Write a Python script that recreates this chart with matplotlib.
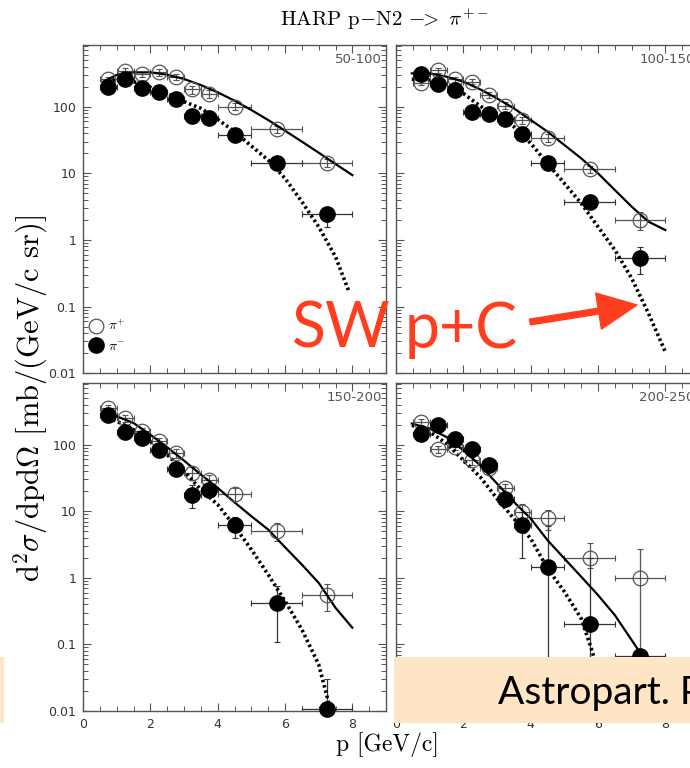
import matplotlib
matplotlib.use('Agg')
import matplotlib.pyplot as plt
from matplotlib.patches import Rectangle, FancyArrowPatch, ArrowStyle
from matplotlib.ticker import FixedLocator, FixedFormatter, MultipleLocator, LogLocator, NullFormatter

plt.rcParams['mathtext.fontset'] = 'cm'
plt.rcParams['axes.formatter.use_mathtext'] = True

# momentum bins (GeV/c) and half widths
p_bins = [0.75, 1.25, 1.75, 2.25, 2.75, 3.25, 3.75, 4.5, 5.75, 7.25]
p_half = [0.25, 0.25, 0.25, 0.25, 0.25, 0.25, 0.25, 0.5, 0.75, 0.75]

panel_names = ['50-100', '100-150', '150-200', '200-250']

# --- 50-100 mrad
pip_1 = [257, 347, 305, 327, 282, 182, 155, 100, 46, 14.5]
pip_1_lo = [25, 35, 30, 35, 30, 25, 20, 12, 6, 2]
pip_1_hi = [25, 35, 30, 35, 30, 25, 20, 12, 6, 2]
pim_1 = [200, 257, 193, 164, 129, 72, 67, 37.6, 14.5, 2.45]
pim_1_lo = [20, 25, 18, 16, 13, 8, 7, 4, 2, 0.87]
pim_1_hi = [20, 25, 18, 16, 13, 8, 7, 4, 2, 0.71]
fit_p_1 = [0.6, 1, 1.5, 2, 2.5, 3, 3.5, 4, 4.5, 5, 5.5, 6, 6.5, 7, 7.5, 8]
fit_pip_1 = [237, 299, 327, 327, 302, 260, 211, 164, 123, 89, 63, 43.6, 29.9, 20.4, 13.8, 9.4]
fit_pm_1 = [0.6, 1, 1.5, 2, 2.5, 3, 3.5, 4, 4.5, 5, 5.5, 6, 6.5, 7, 7.5, 7.9]
fit_pim_1 = [209, 266, 237, 195, 158, 119, 94.4, 64.6, 42.2, 25.7, 15.8, 8.4, 3.76, 1.58, 0.56, 0.168]

# --- 100-150 mrad
pip_2 = [229, 355, 257, 237, 150, 104, 62, 34, 11.5, 2.0]
pip_2_lo = [20, 30, 25, 20, 15, 12, 8, 5, 1.5, 0.6]
pip_2_hi = [20, 30, 25, 20, 15, 12, 8, 5, 1.5, 0.66]
pim_2 = [309, 219, 178, 84, 78, 64.6, 39, 14.5, 3.67, 0.53]
pim_2_lo = [25, 20, 15, 8, 8, 7, 5, 2, 0.6, 0.22]
pim_2_hi = [25, 20, 15, 8, 8, 7, 5, 2, 0.6, 0.25]
fit_p_2 = [0.47, 1, 1.5, 2, 2.5, 3, 3.5, 4, 4.5, 5, 5.5, 6, 6.5, 7, 7.5, 8]
fit_pip_2 = [316, 316, 282, 237, 182, 133, 94.4, 63.1, 42.2, 26.6, 16.8, 10, 5.62, 3.16, 1.88, 1.41]
fit_pm_2 = [0.47, 1, 1.5, 2, 2.5, 3, 3.5, 4, 4.5, 5, 5.5, 6, 6.5, 7, 7.5, 8]
fit_pim_2 = [257, 251, 211, 158, 102, 72.4, 50.1, 28.2, 14.1, 7.08, 3.55, 1.58, 0.71, 0.266, 0.079, 0.021]

# --- 150-200 mrad
pip_3 = [355, 251, 158, 112, 75, 37.6, 29, 18, 5.1, 0.56]
pip_3_lo = [40, 30, 20, 15, 12, 8, 6, 4, 1.5, 0.24]
pip_3_hi = [40, 30, 20, 15, 12, 8, 6, 4, 1.5, 0.25]
pim_3 = [275, 155, 126, 84, 43, 17.4, 21, 6.1, 0.42, 0.0106]
pim_3_lo = [25, 15, 12, 10, 6, 6.2, 4, 2.1, 0.31, 0.0105]
pim_3_hi = [25, 15, 12, 10, 6, 7.6, 4, 2, 0.33, 0.02]
fit_p_3 = [0.6, 1, 1.5, 2, 2.5, 3, 3.5, 4, 4.5, 5, 5.5, 6, 6.5, 7, 7.5, 8]
fit_pip_3 = [288, 266, 211, 141, 91.2, 57.5, 35.5, 22.4, 13.6, 8.41, 5.31, 2.88, 1.58, 0.84, 0.355, 0.178]
fit_pm_3 = [0.6, 1, 1.5, 2, 2.5, 3, 3.5, 4, 4.5, 5, 5.5, 6, 6.5, 7, 7.35]
fit_pim_3 = [275, 224, 168, 112, 70.8, 39.8, 21.1, 12.6, 5.96, 2.66, 1.12, 0.447, 0.168, 0.05, 0.0105]

# --- 200-250 mrad
pip_4 = [219, 85, 92, 58, 45, 22.4, 9.8, 7.8, 2.0, 1.0]
pip_4_lo = [20, 10, 10, 8, 6, 3, 2.5, 2.6, 0.62, 0.99]
pip_4_hi = [20, 10, 10, 8, 6, 3, 3, 2.6, 1.3, 1.7]
pim_4 = [146, 195, 123, 85, 50, 15.5, 6.2, 1.46, 0.2, 0.068]
pim_4_lo = [15, 20, 12, 8, 5, 2.5, 4.2, 1.459, 0.199, 0.01]
pim_4_hi = [15, 20, 12, 8, 5, 2.5, 3.6, 4.5, 1.8, 0.01]
fit_p_4 = [0.47, 1, 1.5, 2, 2.5, 3, 3.5, 4, 4.5, 5, 5.5, 6, 6.5, 7, 7.3, 8]
fit_pip_4 = [207, 174, 130, 82.2, 49, 26, 13.8, 7.76, 3.67, 1.95, 1.04, 0.55, 0.275, 0.116, 0.069, 0.025]
fit_pm_4 = [0.47, 1, 1.5, 2, 2.5, 3, 3.5, 4, 4.5, 5, 5.5, 5.8, 6.0]
fit_pim_4 = [195, 155, 104, 58.2, 32.7, 15.5, 7.76, 3.89, 1.38, 0.62, 0.245, 0.087, 0.04]

panels = [
    (pip_1, pip_1_lo, pip_1_hi, pim_1, pim_1_lo, pim_1_hi, fit_p_1, fit_pip_1, fit_pm_1, fit_pim_1),
    (pip_2, pip_2_lo, pip_2_hi, pim_2, pim_2_lo, pim_2_hi, fit_p_2, fit_pip_2, fit_pm_2, fit_pim_2),
    (pip_3, pip_3_lo, pip_3_hi, pim_3, pim_3_lo, pim_3_hi, fit_p_3, fit_pip_3, fit_pm_3, fit_pim_3),
    (pip_4, pip_4_lo, pip_4_hi, pim_4, pim_4_lo, pim_4_hi, fit_p_4, fit_pip_4, fit_pm_4, fit_pim_4),
]

W, H = 690, 768
fig = plt.figure(figsize=(W / 100, H / 100), dpi=100)

# axes rectangles in pixels: left, top, right, bottom (right column runs past the slide edge)
boxes = [(83, 44.7, 386, 373.3), (396, 44.7, 699, 373.3),
         (83, 382.7, 386, 711), (396, 382.7, 699, 711)]

frame_col = '#555555'
tick_font = dict(family='DejaVu Sans', size=9, color='#333333')

for i, (box, data) in enumerate(zip(boxes, panels)):
    l, t, r, b = box
    ax = fig.add_axes([l / W, 1 - b / H, (r - l) / W, (b - t) / H])
    (pp, pp_lo, pp_hi, pm, pm_lo, pm_hi, fpx, fpy, fmx, fmy) = data

    ax.set_yscale('log')
    ax.set_xlim(0, 9)
    ax.set_ylim(0.01, 850)

    # model curves
    ax.plot(fpx, fpy, '-', color='black', lw=1.6, zorder=3)
    ax.plot(fmx, fmy, color='black', lw=2.6, linestyle=(0, (0.7, 0.8)),
            dash_capstyle='butt', zorder=3)

    # data
    ax.errorbar(p_bins, pp, xerr=p_half, yerr=[pp_lo, pp_hi], fmt='none',
                ecolor='#555555', elinewidth=0.9, capsize=2, capthick=0.8, zorder=2)
    ax.errorbar(p_bins, pm, xerr=p_half, yerr=[pm_lo, pm_hi], fmt='none',
                ecolor='#333333', elinewidth=0.9, capsize=2, capthick=0.8, zorder=2)
    h1, = ax.plot(p_bins, pp, 'o', ms=10.5, mfc='none', mec='#555555', mew=0.9,
                  zorder=4, clip_on=False, label=r'$\pi^{+}$')
    h2, = ax.plot(p_bins, pm, 'o', ms=11, color='black', zorder=5, clip_on=False,
                  label=r'$\pi^{-}$')

    ax.text(0.985, 0.975, panel_names[i], transform=ax.transAxes, ha='right', va='top',
            fontsize=9.5, color='#555555', family='DejaVu Sans')

    # ticks
    ax.xaxis.set_major_locator(MultipleLocator(2))
    ax.xaxis.set_minor_locator(MultipleLocator(0.5))
    ax.yaxis.set_major_locator(FixedLocator([0.01, 0.1, 1, 10, 100]))
    ax.yaxis.set_minor_locator(LogLocator(base=10, subs=range(2, 10)))
    ax.yaxis.set_minor_formatter(NullFormatter())
    ax.tick_params(which='both', direction='in', top=True, right=True, color=frame_col)
    ax.tick_params(which='major', length=6, width=0.8)
    ax.tick_params(which='minor', length=3.5, width=0.7)
    for s in ax.spines.values():
        s.set_color(frame_col)
        s.set_linewidth(1.0)

    if i % 2 == 0:
        ax.yaxis.set_major_formatter(FixedFormatter(['0.01', '0.1', '1', '10', '100']))
    else:
        ax.set_yticklabels([])
    if i >= 2:
        ax.set_xticks([0, 2, 4, 6, 8])
        ax.set_xticklabels(['0', '2', '4', '6', '8'])
    else:
        ax.set_xticklabels([])
    for lab in ax.get_xticklabels() + ax.get_yticklabels():
        lab.set_fontfamily(tick_font['family'])
        lab.set_fontsize(tick_font['size'])
        lab.set_color(tick_font['color'])
    ax.tick_params(axis='both', pad=5)

    if i == 0:
        ax.legend(handles=[h1, h2], loc='lower left', bbox_to_anchor=(0.003, 0.045),
                  borderaxespad=0, frameon=False, fontsize=10, markerscale=1.0,
                  handletextpad=0.3, labelspacing=0.4, handlelength=1.0)

# titles and axis labels
fig.text(384 / W, 1 - 19 / H, r'HARP p$-$N2 $-\!\!>$ $\pi^{+-}$', ha='center', va='center',
         fontsize=15, family='cmr10')
fig.text(387 / W, 1 - 745 / H, 'p [GeV/c]', ha='center', va='center',
         fontsize=17, family='cmr10')
fig.text(31 / W, 1 - 398 / H, r'd$^{2}\sigma$/dpd$\Omega$ [mb/(GeV/c sr)]', ha='center',
         va='center', rotation=90, fontsize=22, family='cmr10')

# overlays from the slide
beige = '#fde5c5'
fig.add_artist(Rectangle((394 / W, 1 - 723 / H), 1 - 394 / W, 66 / H,
                         transform=fig.transFigure, facecolor=beige, edgecolor='none', zorder=10))
fig.add_artist(Rectangle((0, 1 - 723 / H), 4 / W, 66 / H,
                         transform=fig.transFigure, facecolor=beige, edgecolor='none', zorder=10))
fig.text(498 / W, 1 - 704 / H, 'Astropart. Phys.', fontsize=28, family='Lato',
         color='black', va='baseline', ha='left', zorder=11)

red = '#ff3d1f'
fig.text(292 / W, 1 - 348 / H, 'SW', fontsize=45, family='Lato', color=red,
         va='baseline', ha='left', zorder=11)
fig.text(405 / W, 1 - 348 / H, 'p+C', fontsize=45, family='Lato', color=red,
         va='baseline', ha='left', zorder=11)
arrow = FancyArrowPatch((530 / W, 1 - 322 / H), (637 / W, 1 - 305 / H),
                        transform=fig.transFigure,
                        arrowstyle=ArrowStyle.Simple(head_length=0.8, head_width=0.75, tail_width=0.12),
                        mutation_scale=35, color=red, shrinkA=0, shrinkB=0, zorder=11)
fig.add_artist(arrow)

fig.savefig('out.png', dpi=100)
